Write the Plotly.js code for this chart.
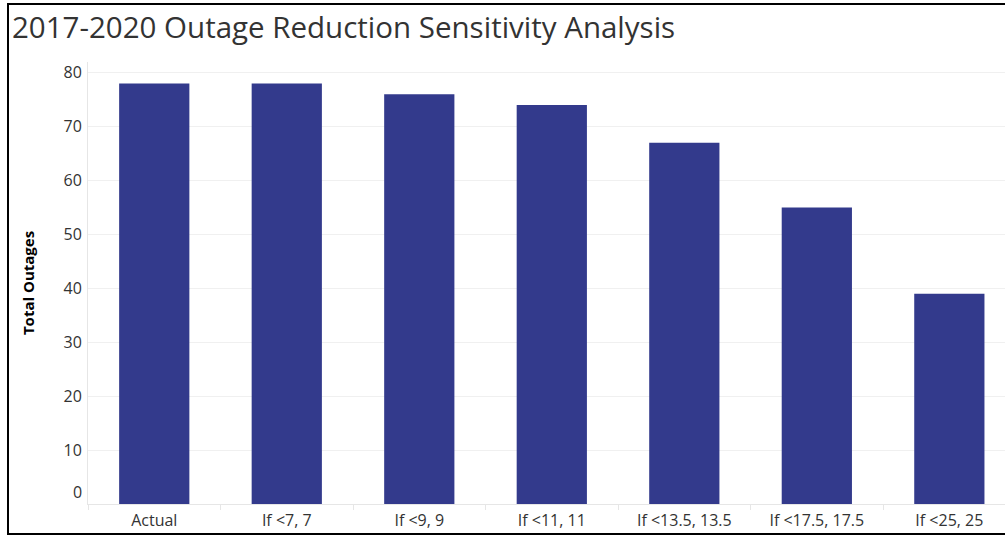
<!DOCTYPE html>
<html>
<head>
<meta charset="utf-8">
<script src="https://cdn.plot.ly/plotly-3.0.1.min.js"></script>
<style>
  html, body { margin: 0; padding: 0; background: #fff; }
  #wrap { position: relative; width: 1005px; height: 535px; overflow: hidden; }
  #chart { position: absolute; left: 0; top: 0; width: 1005px; height: 535px; }
  #frame { position: absolute; left: 7px; top: 3px; width: 1100px; height: 528px;
           border: 2px solid #000; pointer-events: none; }
</style>
</head>
<body>
<div id="wrap">
  <div id="chart"></div>
  <div id="frame"></div>
</div>
<script>
const categories = ["Actual", "If <7, 7", "If <9, 9", "If <11, 11", "If <13.5, 13.5", "If <17.5, 17.5", "If <25, 25"];
const totalOutages = [78, 78, 76, 74, 67, 55, 39];
const yTickVals = [0, 10, 20, 30, 40, 50, 60, 70, 80];
const yTickText = ["", "10", "20", "30", "40", "50", "60", "70", "80"];

const trace = {
  type: "bar",
  x: categories,
  y: totalOutages,
  marker: { color: "#333a8c", line: { width: 0 } },
  hoverinfo: "x+y"
};

const layout = {
  width: 1005,
  height: 535,
  margin: { l: 88, r: 0, t: 62, b: 31, pad: 0 },
  paper_bgcolor: "#ffffff",
  plot_bgcolor: "#ffffff",
  bargap: 0.47,
  showlegend: false,
  title: {
    text: "2017-2020 Outage Reduction Sensitivity Analysis",
    font: { family: "Open Sans", size: 29.5, color: "#333333" },
    x: 0, xref: "container", xanchor: "left",
    y: 1, yref: "container", yanchor: "top",
    pad: { l: 12, t: 17 },
    automargin: false
  },
  xaxis: {
    type: "category",
    range: [-0.5, 6.42],
    showgrid: false,
    zeroline: false,
    showline: true,
    linecolor: "#e6e6e6",
    linewidth: 1,
    ticks: "outside",
    tickson: "boundaries",
    ticklen: 5,
    tickcolor: "#e6e6e6",
    ticklabelstandoff: 2,
    tickfont: { family: "Open Sans", size: 16, color: "#333333" },
    fixedrange: true
  },
  yaxis: {
    range: [0, 82],
    tickvals: yTickVals,
    ticktext: yTickText,
    showgrid: true,
    gridcolor: "#f0f0f0",
    gridwidth: 1,
    zeroline: false,
    showline: true,
    linecolor: "#e6e6e6",
    linewidth: 1,
    ticks: "",
    ticklabelstandoff: 2,
    tickfont: { family: "Open Sans", size: 16, color: "#333333" },
    title: {
      text: "<b>Total Outages</b>",
      font: { family: "Open Sans", size: 15, color: "#000000" },
      standoff: 25
    },
    fixedrange: true
  },
  annotations: [{
    text: "0",
    xref: "paper", x: 0, xanchor: "right", xshift: -4,
    yref: "y", y: 0, yanchor: "middle", yshift: 12,
    showarrow: false,
    font: { family: "Open Sans", size: 16, color: "#333333" }
  }]
};

Plotly.newPlot("chart", [trace], layout, { displayModeBar: false, staticPlot: true });
</script>
</body>
</html>
